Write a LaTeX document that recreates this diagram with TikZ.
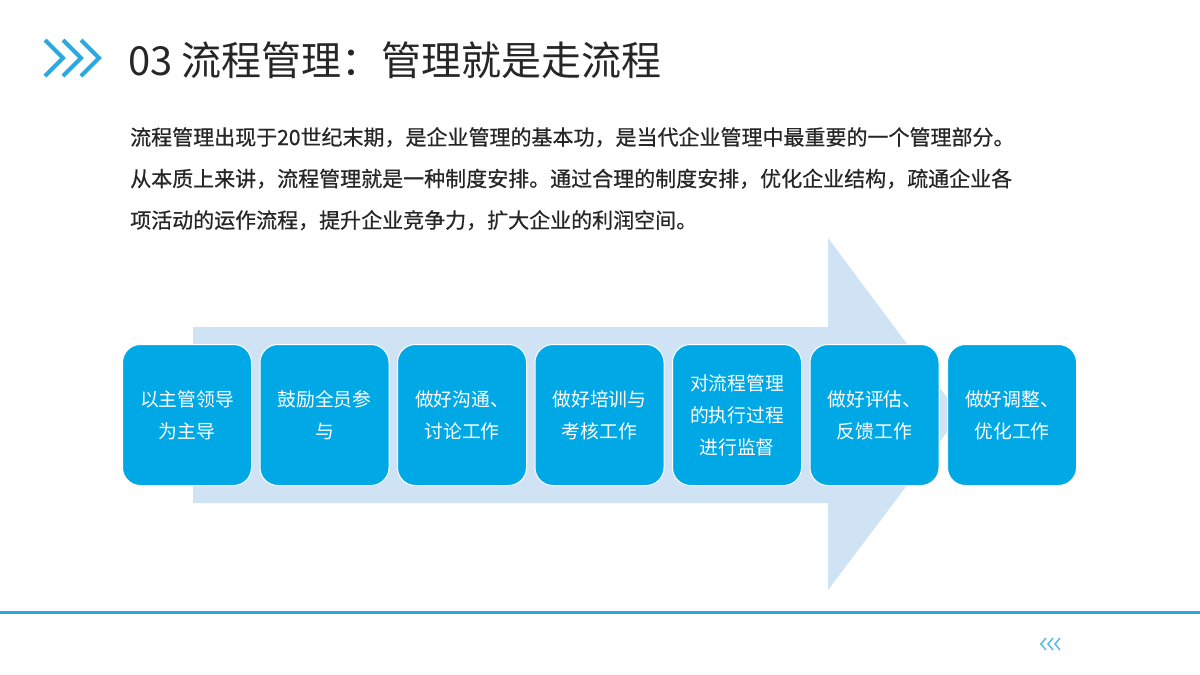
\documentclass[tikz,border=0pt]{standalone}
\usepackage{fontspec}
\newfontfamily\cjk{Noto Sans CJK SC}
\newfontfamily\cjkb[FakeBold=0.6]{Noto Sans CJK SC}
\definecolor{blu}{RGB}{0,169,230}
\definecolor{lblu}{RGB}{207,227,245}
\definecolor{lineb}{RGB}{41,169,224}
\begin{document}
\begin{tikzpicture}[x=1pt,y=-1pt,
  stage/.style={draw=white,line width=1pt,fill=blu,rounded corners=18pt,minimum width=129pt,minimum height=141pt,
    text=white,font=\cjk\fontsize{18.8}{32}\selectfont,align=center,anchor=north west,inner sep=2pt},
  chev/.style={draw=lineb,line width=4pt}]
\useasboundingbox (0,0) rectangle (1200,675);
\fill[white] (0,0) rectangle (1200,675);
% header chevrons
\foreach \dx in {0,18,36}{\draw[chev] (45+\dx,40) -- (63+\dx,58) -- (45+\dx,76);}
\node[anchor=west,inner sep=0,font=\cjk\fontsize{40}{44}\selectfont,text=black!85] (title) at (128,60) {03 流程管理：管理就是走流程};
\node[anchor=north west,inner sep=0,align=left,font=\cjkb\fontsize{21}{41.5}\selectfont,text=black!85] (para) at (130,127)
 {流程管理出现于20世纪末期，是企业管理的基本功，是当代企业管理中最重要的一个管理部分。\\
  从本质上来讲，流程管理就是一种制度安排。通过合理的制度安排，优化企业结构，疏通企业各\\
  项活动的运作流程，提升企业竞争力，扩大企业的利润空间。};
% big arrow
\fill[lblu] (193,327) -- (828,327) -- (828,238) -- (960,415) -- (828,590) -- (828,503) -- (193,503) -- cycle;
\node[stage] (s1) at (122,344) {以主管领导\\为主导};
\node[stage] (s2) at (259.5,344) {鼓励全员参\\与};
\node[stage] (s3) at (397,344) {做好沟通、\\讨论工作};
\node[stage] (s4) at (534.5,344) {做好培训与\\考核工作};
\node[stage] (s5) at (672,344) {对流程管理\\的执行过程\\进行监督};
\node[stage] (s6) at (809.5,344) {做好评估、\\反馈工作};
\node[stage] (s7) at (947,344) {做好调整、\\优化工作};
% bottom
\draw[lineb,line width=3pt] (0,612) -- (1200,612);
\foreach \dx in {0,7,14}{\draw[lineb!80,line width=1.5pt] (1046+\dx,638) -- (1041+\dx,644) -- (1046+\dx,650);}
\end{tikzpicture}
\end{document}
